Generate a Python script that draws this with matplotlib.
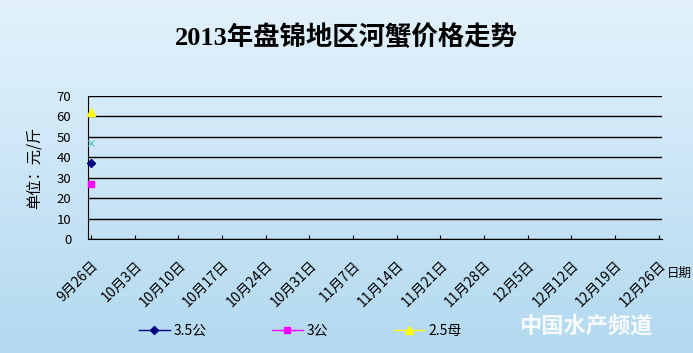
import matplotlib.pyplot as plt
import numpy as np
from matplotlib.colors import LinearSegmentedColormap

plt.rcParams['font.family'] = ['Noto Sans CJK SC', 'DejaVu Sans']

dates = ['9月26日', '10月3日', '10月10日', '10月17日', '10月24日', '10月31日', '11月7日',
         '11月14日', '11月21日', '11月28日', '12月5日', '12月12日', '12月19日', '12月26日']
s35_gong = [37]
s3_gong = [27]
s25_mu = [62]
s_extra = [47]
yticks = [0, 10, 20, 30, 40, 50, 60, 70]

fig = plt.figure(figsize=(6.93, 3.53), dpi=100)

# background gradient
bg = fig.add_axes([0, 0, 1, 1], zorder=-10)
cmap = LinearSegmentedColormap.from_list('bg', ['#e3f2fc', '#b3d9f0'])
bg.imshow(np.linspace(0, 1, 256).reshape(-1, 1), aspect='auto', cmap=cmap,
          extent=[0, 1, 0, 1])
bg.axis('off')

ax = fig.add_axes([0.127, 0.323, 0.828, 0.405])
ax.patch.set_alpha(0)
x = np.arange(len(dates))

ax.plot(x[:1], s35_gong, color='#000080', marker='D', ms=4, lw=1, label='3.5公', clip_on=False, zorder=5)
ax.plot(x[:1], s3_gong, color='#ff00ff', marker='s', ms=5, lw=1, label='3公', clip_on=False, zorder=5)
ax.plot(x[:1], s25_mu, color='#ffff00', marker='^', ms=6, lw=1, label='2.5母', clip_on=False, zorder=5)
ax.plot(x[:1], s_extra, color='#66cccc', marker='x', ms=4, lw=1, label='_nolegend_', clip_on=False, zorder=5)

ax.set_xlim(-0.07, 13.07)
ax.set_ylim(0, 70)
ax.set_yticks(yticks)
ax.set_yticklabels([str(v) for v in yticks], fontsize=9.5)
ax.yaxis.grid(True, color='black', lw=1)
ax.set_axisbelow(True)
ax.tick_params(axis='y', length=0, pad=12)
ax.set_xticks(x)
ax.set_xticklabels(dates, rotation=45, ha='right', rotation_mode='anchor', fontsize=10)
ax.tick_params(axis='x', length=3, direction='in', pad=14)
for s in ['top', 'right']:
    ax.spines[s].set_visible(False)
ax.spines['left'].set_color('black')
ax.spines['bottom'].set_color('black')

ax.set_ylabel('单位：元/斤', fontsize=11, labelpad=10)

fig.text(0.5, 0.895, '2013年盘锦地区河蟹价格走势', ha='center', va='center', fontsize=19,
         fontweight='bold', family=['Liberation Serif', 'Noto Sans CJK SC'])
fig.text(0.962, 0.225, '日期', ha='left', va='center', fontsize=9)

ax.legend(loc='center', bbox_to_anchor=(0.37, -0.64), ncol=3, frameon=False, fontsize=10,
          handlelength=2.2, columnspacing=4.7, handletextpad=0.3)

fig.text(0.845, 0.076, '中国水产频道', ha='center', va='center', fontsize=16,
         fontweight='bold', style='italic', color='white', alpha=0.9)

fig.savefig('out.png', dpi=100)
